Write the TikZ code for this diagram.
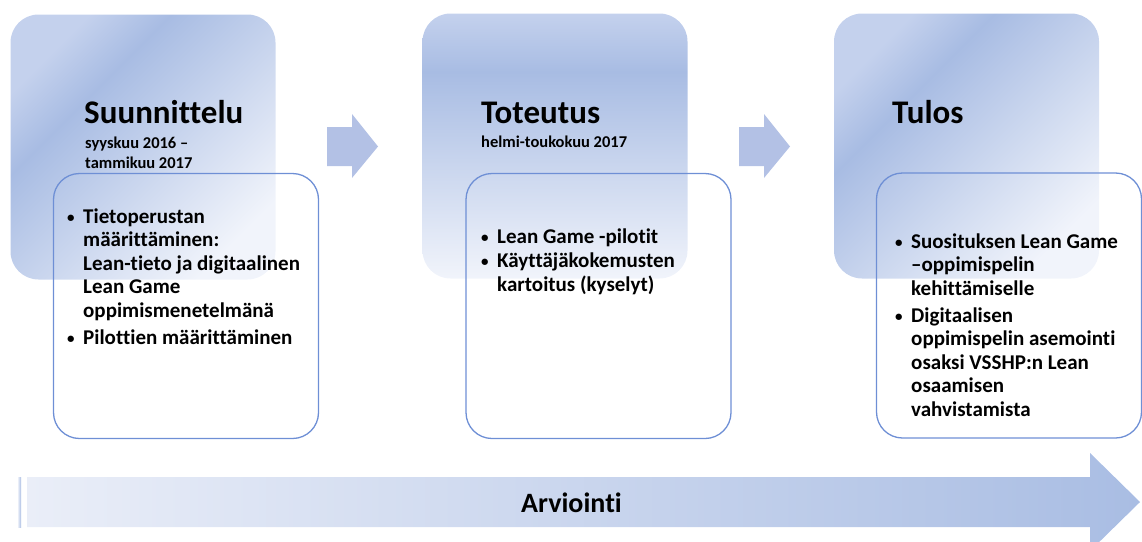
\documentclass[tikz,border=0pt]{standalone}
\usepackage{fontspec}
\setmainfont{Carlito}[Ligatures=NoCommon]
\usetikzlibrary{positioning}

\definecolor{phaseDark}{HTML}{A8BCE3}
\definecolor{phaseTop}{HTML}{C4D1ED}
\definecolor{phaseLight}{HTML}{F1F4FB}
\definecolor{arrowFill}{HTML}{B3C1E5}
\definecolor{frameBlue}{HTML}{6E8FD5}
\definecolor{flowLight}{HTML}{EAEEF8}
\definecolor{flowDark}{HTML}{A9BDE3}

% light top edge, dark band near the top, fading out towards the bottom
\pgfdeclareverticalshading{phasefill}{100bp}{%
  color(0bp)=(phaseLight); color(25bp)=(phaseLight);
  color(64bp)=(phaseDark); color(75bp)=(phaseTop); color(100bp)=(phaseTop)}

\tikzset{
  phasebox/.style={shading=phasefill, rounded corners=28pt, inner sep=0pt,
    outer sep=0pt, minimum width=265pt, minimum height=265pt},
  listbox/.style={draw=frameBlue, line width=1.3pt, rounded corners=26pt,
    inner sep=0pt, outer sep=0pt, minimum width=265pt, minimum height=265pt},
  steparrow/.style={fill=arrowFill, draw=none},
  phasetitle/.style={font=\fontsize{33}{38}\selectfont\bfseries, inner sep=0pt,
    anchor=base west},
  phasedate/.style={font=\fontsize{16.5}{20}\selectfont\bfseries, inner sep=0pt,
    anchor=base west},
  bulletlist/.style={inner sep=0pt, anchor=base west},
  flowlabel/.style={font=\fontsize{28}{32}\selectfont\bfseries, inner sep=0pt,
    anchor=base}
}

% list bullet: a smaller dot in a fixed-width slot
\newcommand{\bul}{\makebox[16pt][l]{\raisebox{1pt}{\fontsize{15}{15}\selectfont •}}}

\begin{document}
\begin{tikzpicture}[x=1pt,y=-1pt]
\useasboundingbox (0,0) rectangle (1142,541);

% phase backgrounds
\node[phasebox, shading angle=45] (ph1) at (143,147) {};
\node[phasebox] (ph2) at (555,146) {};
\node[phasebox, shading angle=45] (ph3) at (966.5,146) {};

% step arrows between the phases
\path[steparrow] (327,127) -- (352,127) -- (352,114) -- (378,146.5)
  -- (352,178) -- (352,166) -- (327,166) -- cycle;
\path[steparrow] (739,127) -- (764,127) -- (764,114) -- (790,146.5)
  -- (764,178) -- (764,166) -- (739,166) -- cycle;

% titles and dates
\node[phasetitle] (ti1) at (84,123) {Suunnittelu};
\node[phasedate] (da1) at (85,148) {\begin{tabular}[t]{@{}l@{}}syyskuu 2016 –\\tammikuu 2017\end{tabular}};
\node[phasetitle] (ti2) at (481,123) {Toteutus};
\node[phasedate] (da2) at (481,147) {helmi-toukokuu 2017};
\node[phasetitle] (ti3) at (892,123) {Tulos};

% content frames
\node[listbox] (li1) at (186,306) {};
\node[listbox] (li2) at (598.5,306) {};
\node[listbox] (li3) at (1009,305.5) {};

% bullet lists
\node[bulletlist] (bl1) at (67,223) {\fontsize{21}{23.5}\selectfont\bfseries
  \begin{tabular}[t]{@{}l@{}l@{}}
  \bul & Tietoperustan\\
       & määrittäminen:\\
       & Lean-tieto ja digitaalinen\\
       & Lean Game\\
       & oppimismenetelmänä\\[4pt]
  \bul & Pilottien määrittäminen
  \end{tabular}};
\node[bulletlist] (bl2) at (481,243) {\fontsize{21}{24}\selectfont\bfseries
  \begin{tabular}[t]{@{}l@{}l@{}}
  \bul & Lean Game -pilotit\\
  \bul & Käyttäjäkokemusten\\
       & kartoitus (kyselyt)
  \end{tabular}};
\node[bulletlist] (bl3) at (895,248) {\fontsize{21}{23.5}\selectfont\bfseries
  \begin{tabular}[t]{@{}l@{}l@{}}
  \bul & Suosituksen Lean Game\\
       & –oppimispelin\\
       & kehittämiselle\\[3.5pt]
  \bul & Digitaalisen\\
       & oppimispelin asemointi\\
       & osaksi VSSHP:n Lean\\
       & osaamisen\\
       & vahvistamista
  \end{tabular}};

% evaluation arrow along the bottom
\path[left color=flowLight, right color=flowDark] (18,477) rectangle (21,527);
\path[left color=flowLight, right color=flowDark] (27,477) -- (1090,477)
  -- (1090,453) -- (1140,502) -- (1090,551) -- (1090,527) -- (27,527) -- cycle;
\node[flowlabel] (ev) at (571.5,512) {Arviointi};
\end{tikzpicture}
\end{document}
